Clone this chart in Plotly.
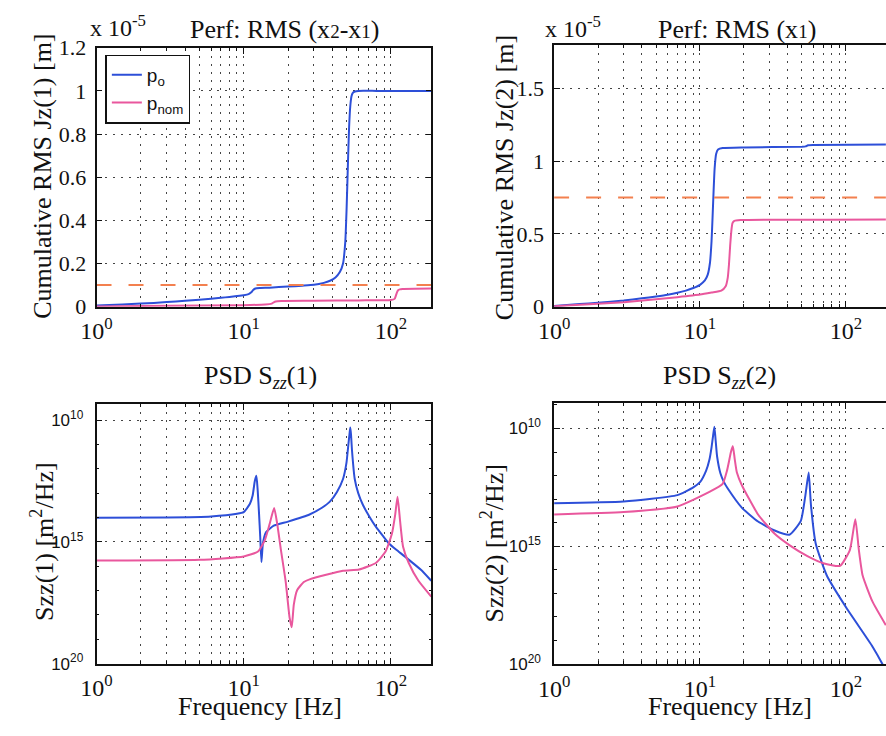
import numpy as np
import plotly.graph_objects as go

# ---------------- data ----------------
# Top-left: cumulative RMS Jz(1), units of 1e-5 m
rms1_po_f = [1, 1.5, 2, 3, 4, 5, 6, 7, 8, 9, 10, 10.8, 11.2, 11.6, 12, 13, 15, 20, 25, 30, 35,
             38.6, 42, 45, 47.3, 49, 50, 51, 52, 53, 54, 55, 57, 60, 80, 120, 188]
rms1_po_v = [0.005, 0.01, 0.014, 0.021, 0.027, 0.032, 0.037, 0.041, 0.045, 0.049, 0.053, 0.058,
             0.065, 0.077, 0.084, 0.086, 0.088, 0.093, 0.097, 0.101, 0.11, 0.12, 0.135, 0.16, 0.2,
             0.3, 0.45, 0.65, 0.83, 0.93, 0.975, 0.99, 0.997, 1.0, 1.0, 1.0, 1.0]
rms1_pn_f = [1, 3, 10, 14, 15.5, 16, 16.5, 18, 30, 60, 100, 106, 108, 110, 112, 115, 120, 188]
rms1_pn_v = [0.001, 0.004, 0.007, 0.01, 0.014, 0.02, 0.024, 0.026, 0.027, 0.029, 0.031, 0.036,
             0.05, 0.066, 0.076, 0.08, 0.082, 0.084]
rms1_req = 0.1

# Top-right: cumulative RMS Jz(2), units of 1e-5 m
rms2_po_f = [1, 1.5, 2, 3, 4, 5, 6, 7, 8, 9, 10, 10.8, 11.3, 11.7, 12.0, 12.2, 12.4, 12.6, 12.9,
             13.3, 14.3, 20, 50, 53, 55, 60, 188]
rms2_po_v = [0.005, 0.018, 0.027, 0.042, 0.057, 0.07, 0.082, 0.095, 0.11, 0.128, 0.15, 0.18,
             0.22, 0.3, 0.45, 0.62, 0.8, 0.95, 1.05, 1.08, 1.09, 1.095, 1.1, 1.102, 1.11, 1.112,
             1.115]
rms2_pn_f = [1, 2, 3, 5, 7, 10, 12, 14, 15, 15.5, 15.8, 16.1, 16.4, 16.7, 17.2, 19, 188]
rms2_pn_v = [0.003, 0.02, 0.03, 0.05, 0.065, 0.083, 0.097, 0.11, 0.14, 0.2, 0.29, 0.42, 0.52,
             0.574, 0.59, 0.595, 0.6]
rms2_req = 0.75

# Bottom-left: PSD Szz(1), log10 values
psd1_po_f = [1, 3, 6, 9, 10, 11, 11.5, 11.9, 12.2, 12.45, 12.7, 12.95, 13.2, 13.5, 14.2, 16, 20,
             28, 34, 38.5, 43, 47.3, 49.9, 51.5, 52.5, 53, 53.6, 54.4, 56.8, 60, 64.5, 72, 79.4,
             88, 97, 110, 132, 160, 188]
psd1_po_e = [-14.01, -14.0, -13.96, -13.85, -13.78, -13.45, -13.1, -12.5, -12.29, -12.9, -13.8,
             -14.8, -15.83, -15.07, -14.6, -14.34, -14.17, -13.88, -13.6, -13.35, -12.95, -12.42,
             -11.76, -10.97, -10.5, -10.31, -10.6, -11.23, -12.42, -13.0, -13.48, -14.0, -14.4,
             -14.75, -15.07, -15.35, -15.73, -16.15, -16.6]
psd1_pn_f = [1, 5, 10, 12.5, 13.9, 15.0, 16.1, 16.9, 17.9, 19.3, 20.5, 21.2, 21.9, 23.1, 25.6,
             28.3, 47.3, 60.8, 79.4, 92, 101.6, 107, 111, 115.5, 121, 132, 153.5, 188]
psd1_pn_e = [-15.77, -15.74, -15.6, -15.4, -14.94, -14.27, -13.61, -14.27, -15.33, -16.65,
             -18.11, -18.51, -17.58, -16.98, -16.65, -16.53, -16.19, -16.14, -15.86, -15.4,
             -14.67, -13.88, -13.15, -14.15, -15.2, -15.86, -16.59, -17.25]

# Bottom-right: PSD Szz(2), log10 values
psd2_po_f = [1, 3, 7, 9, 10, 11, 11.6, 12.0, 12.3, 12.55, 12.8, 13.1, 13.8, 14.6, 15.5, 19.4,
             25, 32.5, 41, 49.1, 52.8, 55.6, 57.6, 62.1, 74, 100.7, 152, 178, 188]
psd2_po_e = [-13.17, -13.1, -12.83, -12.5, -12.28, -11.8, -11.33, -10.8, -10.3, -9.93, -10.5,
             -11.19, -11.9, -12.28, -12.55, -13.37, -13.95, -14.33, -14.51, -13.92, -12.83,
             -11.87, -13.24, -14.88, -16.24, -17.61, -19.25, -20.0, -20.3]
psd2_pn_f = [1, 3, 7, 11.6, 14.3, 15.3, 15.8, 16.3, 16.8, 17.3, 17.9, 19.4, 25, 32.5, 41, 54.5,
             70, 91.2, 106.6, 116.1, 122.7, 130.3, 152, 188]
psd2_pn_e = [-13.65, -13.55, -13.31, -12.69, -12.35, -11.8, -11.4, -11.0, -10.75, -11.3,
             -11.87, -12.42, -13.65, -14.47, -14.95, -15.42, -15.72, -15.83, -15.15, -13.85,
             -15.15, -16.24, -17.34, -18.35]

f_span = [1, 188]
x_major = [1, 10, 100]
x_major_text = ["10<sup>0</sup>", "10<sup>1</sup>", "10<sup>2</sup>"]
x_minor = [2, 3, 4, 5, 6, 7, 8, 9, 20, 30, 40, 50, 60, 70, 80, 90, 200]
y1_ticks = [0, 0.2, 0.4, 0.6, 0.8, 1.0, 1.2]
y1_text = ["0", "0.2", "0.4", "0.6", "0.8", "1", "1.2"]
y2_ticks = [0, 0.5, 1.0, 1.5]
y2_text = ["0", "0.5", "1", "1.5"]
psd_ticks = [1e-10, 1e-15, 1e-20]
psd_text = ["10<sup>10</sup>", "10<sup>15</sup>", "10<sup>20</sup>"]
psd_minor = [10.0 ** -k for k in range(9, 21)]

# ---------------- styling ----------------
BLUE = "#2d4fd8"
PINK = "#e9579d"
ORANGE = "#f3804f"
SERIF = "Liberation Serif"
SANS = "Liberation Sans"
GRIDC = "#444444"
GDASH = "2px,6px"
W, H = 886, 736

def px_x(p):
    return p / W

def px_y(p):
    return 1 - p / H

fig = go.Figure()

def line(x, y, color, xa, ya, name=None, show=False, dash=None, shape="spline"):
    fig.add_trace(go.Scatter(
        x=x, y=y, mode="lines", name=name, showlegend=show,
        line=dict(color=color, width=2, dash=dash, shape=shape, smoothing=0.5),
        xaxis=xa, yaxis=ya, hoverinfo="skip"))

# top-left
line(rms1_po_f, rms1_po_v, BLUE, "x", "y", "p<sub>o</sub>", True)
line(rms1_pn_f, rms1_pn_v, PINK, "x", "y", "p<sub>nom</sub>", True)
line(f_span, [rms1_req, rms1_req], ORANGE, "x", "y", dash="15px,17px", shape="linear")
# top-right
line(rms2_po_f, rms2_po_v, BLUE, "x2", "y2")
line(rms2_pn_f, rms2_pn_v, PINK, "x2", "y2")
line(f_span, [rms2_req, rms2_req], ORANGE, "x2", "y2", dash="15px,17px", shape="linear")
# bottom-left
line(psd1_po_f, [10.0 ** e for e in psd1_po_e], BLUE, "x3", "y3")
line(psd1_pn_f, [10.0 ** e for e in psd1_pn_e], PINK, "x3", "y3")
# bottom-right
line(psd2_po_f, [10.0 ** e for e in psd2_po_e], BLUE, "x4", "y4")
line(psd2_pn_f, [10.0 ** e for e in psd2_pn_e], PINK, "x4", "y4")

def xaxis(domain, anchor, mirror=True):
    return dict(
        type="log", range=[0, 2.275], domain=domain, anchor=anchor,
        tickvals=x_major, ticktext=x_major_text, ticks="inside", ticklen=6,
        tickcolor="#111", tickwidth=1,
        tickfont=dict(family=SERIF, size=24, color="#111"),
        showline=True, linecolor="#111", linewidth=1.6, mirror="ticks" if mirror else False,
        showgrid=True, gridcolor=GRIDC, griddash=GDASH, gridwidth=1,
        minor=dict(tickvals=x_minor, ticks="inside", ticklen=3, tickcolor="#111",
                   showgrid=True, gridcolor=GRIDC, griddash=GDASH, gridwidth=1),
        zeroline=False, ticklabelstandoff=2)

def yaxis_lin(domain, anchor, rng, tv, tt, mirror=True):
    return dict(
        range=rng, domain=domain, anchor=anchor, tickvals=tv, ticktext=tt,
        ticks="inside", ticklen=6, tickcolor="#111",
        tickfont=dict(family=SERIF, size=22, color="#111"),
        showline=True, linecolor="#111", linewidth=1.6, mirror="ticks" if mirror else False,
        showgrid=True, gridcolor=GRIDC, griddash=GDASH, gridwidth=1,
        zeroline=False, ticklabelstandoff=4)

def yaxis_log(domain, anchor, rng, mirror=True):
    return dict(
        type="log", range=rng, domain=domain, anchor=anchor,
        tickvals=psd_ticks, ticktext=psd_text, ticks="inside", ticklen=6, tickcolor="#111",
        tickfont=dict(family=SANS, size=17, color="#111"),
        showline=True, linecolor="#111", linewidth=1.6, mirror="ticks" if mirror else False,
        showgrid=True, gridcolor=GRIDC, griddash=GDASH, gridwidth=1,
        minor=dict(tickvals=psd_minor, ticks="inside", ticklen=3, tickcolor="#111",
                   showgrid=False),
        zeroline=False, ticklabelstandoff=8)

LX = [px_x(82), px_x(423)]
RX = [px_x(548), 1.0]

fig.update_layout(
    width=W, height=H, margin=dict(l=0, r=0, t=0, b=0),
    paper_bgcolor="white", plot_bgcolor="white",
    xaxis=xaxis(LX, "y"),
    yaxis=yaxis_lin([px_y(305), px_y(37)], "x", [0, 1.2], y1_ticks, y1_text),
    xaxis2=xaxis(RX, "y2"),
    yaxis2=yaxis_lin([px_y(305), px_y(34)], "x2", [0, 1.8], y2_ticks, y2_text, mirror=False),
    xaxis3=xaxis(LX, "y3"),
    yaxis3=yaxis_log([px_y(674.5), px_y(406)], "x3", [-20, -9.35]),
    xaxis4=xaxis(RX, "y4"),
    yaxis4=yaxis_log([px_y(675), px_y(405)], "x4", [-20, -8.93], mirror=False),
    legend=dict(x=px_x(91), y=px_y(44), xanchor="left", yanchor="top",
                bgcolor="white", bordercolor="#111", borderwidth=1.5,
                font=dict(family=SANS, size=19, color="#111"), tracegroupgap=0,
                itemwidth=30),
    showlegend=True,
)

def ann(text, x, y, size=26, family=SERIF, angle=0):
    fig.add_annotation(text=text, x=px_x(x), y=px_y(y), xref="paper", yref="paper",
                       showarrow=False, xanchor="center", yanchor="middle",
                       textangle=angle, font=dict(family=family, size=size, color="#111"))

# titles
ann("Perf: RMS (x<span style='font-size:19px'>2</span>-x<span style='font-size:19px'>1</span>)", 273, 18)
ann("Perf: RMS (x<span style='font-size:19px'>1</span>)", 734, 18)
ann("PSD S<sub><i>zz</i></sub>(1)", 249, 378)
ann("PSD S<sub><i>zz</i></sub>(2)", 716, 378)
# exponent labels
ann("x 10<sup>-5</sup>", 104, 14, size=24)
ann("x 10<sup>-5</sup>", 567, 16, size=24)
# y titles
ann("Cumulative RMS Jz(1) [m]", 27, 170, angle=-90)
ann("Cumulative RMS Jz(2) [m]", 497, 172, angle=-90)
ann("Szz(1) [m<sup>2</sup>/Hz]", 27, 548, angle=-90)
ann("Szz(2) [m<sup>2</sup>/Hz]", 485, 550, angle=-90)
# x titles
ann("Frequency [Hz]", 248, 719)
ann("Frequency [Hz]", 727, 719)

fig.write_html("out.html")
